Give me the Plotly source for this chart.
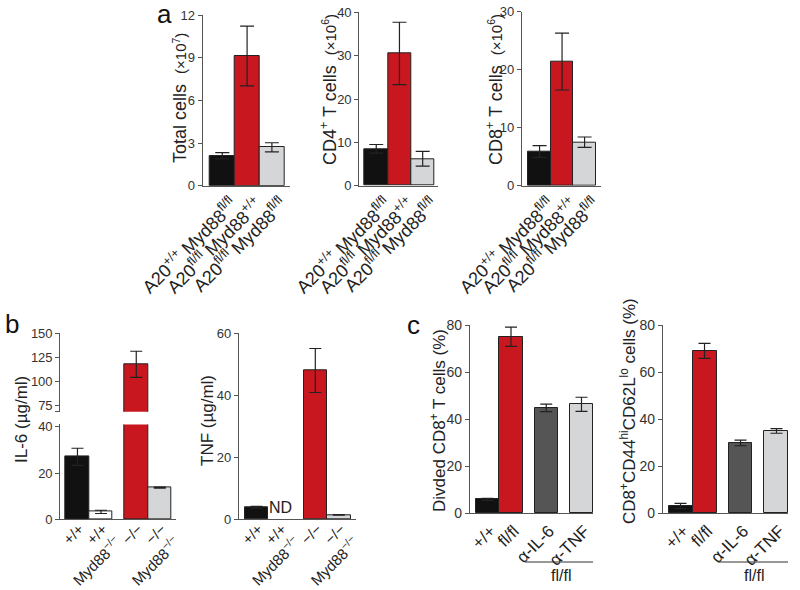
import plotly.graph_objects as go

# ---------------- data ----------------
a_categories = [
    "A20<sup>+/+</sup> Myd88<sup>fl/fl</sup>",
    "A20<sup>fl/fl</sup> Myd88<sup>+/+</sup>",
    "A20<sup>fl/fl</sup> Myd88<sup>fl/fl</sup>",
]
total_cells = [2.11, 9.12, 2.70]
total_cells_err = [0.22, 2.10, 0.32]
cd4_cells = [8.5, 30.5, 6.2]
cd4_err = [1.0, 7.2, 1.7]
cd8_cells = [5.9, 21.4, 7.5]
cd8_err = [1.0, 4.9, 0.9]

b_categories = [
    "+/+",
    "+/+<br>Myd88<sup>−/−</sup>",
    "−/−",
    "−/−<br>Myd88<sup>−/−</sup>",
]
il6 = [27.0, 3.2, 117.9, 13.7]
il6_err = [3.7, 0.7, 13.5, 0.25]
tnf = [3.9, None, 48.0, 1.4]
tnf_err = [0.3, 0.0, 7.1, 0.1]

c_categories = ["+/+", "fl/fl", "α-IL-6", "α-TNF"]
divided_cd8 = [5.9, 75.0, 44.8, 46.3]
divided_err = [0.4, 4.1, 1.6, 3.0]
effector_cd8 = [3.1, 69.0, 29.9, 35.0]
effector_err = [1.1, 3.2, 1.2, 1.0]

# ---------------- style ----------------
W, H = 800, 590
BLACK = "#111111"
RED = "#c8171f"
LGRAY = "#d5d6d8"
DGRAY = "#555555"
WHITE = "#ffffff"
FONT = "Arial, Liberation Sans, Helvetica, sans-serif"

a_colors = [BLACK, RED, LGRAY]
il6_colors = [BLACK, WHITE, RED, LGRAY]
tnf_colors = [BLACK, WHITE, RED, LGRAY]
c_colors = [BLACK, RED, DGRAY, LGRAY]

# slot positions along x (layout only)
a_slots = [0, 1, 2]
b_slots = [0, 1, 2.5, 3.5]
c_slots = [0, 1, 2.5, 4]


def fx(p):
    return p / W


def fy(p):
    return 1 - p / H


def bar(x, y, err, colors, xa, ya, cap=6):
    return go.Bar(
        x=x, y=y, width=1, xaxis=xa, yaxis=ya,
        marker=dict(color=colors, line=dict(color="#222222", width=1)),
        error_y=dict(type="data", array=err, visible=True, color="#222222",
                     thickness=1.2, width=cap),
        showlegend=False, hoverinfo="y",
    )


fig = go.Figure()
fig.add_trace(bar(a_slots, total_cells, total_cells_err, a_colors, "x", "y", 7))
fig.add_trace(bar(a_slots, cd4_cells, cd4_err, a_colors, "x2", "y2", 7))
fig.add_trace(bar(a_slots, cd8_cells, cd8_err, a_colors, "x3", "y3", 7))
fig.add_trace(bar(b_slots, il6, il6_err, il6_colors, "x4", "y4"))
fig.add_trace(bar(b_slots, il6, il6_err, il6_colors, "x4", "y5"))
fig.add_trace(bar(b_slots, tnf, tnf_err, tnf_colors, "x5", "y6"))
fig.add_trace(bar(c_slots, divided_cd8, divided_err, c_colors, "x6", "y7"))
fig.add_trace(bar(c_slots, effector_cd8, effector_err, c_colors, "x7", "y8"))

yax = dict(showline=True, linecolor="#555555", linewidth=1.2, ticks="outside",
           ticklen=4, tickwidth=1.2, tickcolor="#555555", showgrid=False,
           zeroline=False, automargin=False,
           tickfont=dict(size=13, color="#333333"))
xax = dict(showline=True, linecolor="#555555", linewidth=1.2, ticks="",
           showgrid=False, zeroline=False, tickangle=-45, automargin=False,
           tickfont=dict(size=17, color="#222222"))

layout = dict(
    width=W, height=H, margin=dict(l=0, r=0, t=0, b=0, pad=0), autosize=False,
    paper_bgcolor="white", plot_bgcolor="white",
    font=dict(family=FONT, color="#222222"),
    bargap=0,
)

a_tickfont = dict(size=18, color="#222222")
b_tickfont = dict(size=15, color="#222222")

# panel a
layout["xaxis"] = dict(xax, domain=[fx(202.7), fx(290)], range=[-0.79, 2.73],
                       anchor="y", tickvals=a_slots, ticktext=a_categories,
                       tickfont=a_tickfont, ticklabelshift=10)
layout["yaxis"] = dict(yax, domain=[fy(185.7), fy(15)], range=[0, 12],
                       anchor="x", tickvals=[0, 3, 6, 9, 12])
layout["xaxis2"] = dict(xax, domain=[fx(359.3), fx(438)], range=[-0.73, 2.66],
                        anchor="y2", tickvals=a_slots, ticktext=a_categories,
                        tickfont=a_tickfont, ticklabelshift=10)
layout["yaxis2"] = dict(yax, domain=[fy(185.7), fy(12.3)], range=[0, 40],
                        anchor="x2", tickvals=[0, 10, 20, 30, 40])
layout["xaxis3"] = dict(xax, domain=[fx(522), fx(601)], range=[-0.78, 2.73],
                        anchor="y3", tickvals=a_slots, ticktext=a_categories,
                        tickfont=a_tickfont, ticklabelshift=10)
layout["yaxis3"] = dict(yax, domain=[fy(185.7), fy(11.7)], range=[0, 30],
                        anchor="x3", tickvals=[0, 10, 20, 30])

# panel b (IL-6 broken axis)
layout["xaxis4"] = dict(xax, domain=[fx(60.3), fx(176)], range=[-0.73, 4.19],
                        anchor="y4", tickvals=b_slots, ticktext=b_categories,
                        tickfont=b_tickfont, ticklabelshift=2,
                        ticklabelstandoff=-6)
layout["yaxis4"] = dict(yax, domain=[fy(519.3), fy(424.4)], range=[0, 41],
                        anchor="x4", tickvals=[0, 20, 40])
layout["yaxis5"] = dict(yax, domain=[fy(411.7), fy(333.3)], range=[68.8, 150],
                        anchor="x4", tickvals=[68.8, 75, 100, 125, 150],
                        ticktext=["", "75", "100", "125", "150"])
layout["xaxis5"] = dict(xax, domain=[fx(239), fx(356)], range=[-0.745, 4.23],
                        anchor="y6", tickvals=b_slots, ticktext=b_categories,
                        tickfont=b_tickfont, ticklabelshift=2,
                        ticklabelstandoff=-6)
layout["yaxis6"] = dict(yax, domain=[fy(519.3), fy(333.3)], range=[0, 60],
                        anchor="x5", tickvals=[0, 20, 40, 60])

# panel c
layout["xaxis6"] = dict(xax, domain=[fx(470), fx(593)], range=[-0.745, 4.49],
                        anchor="y7", tickvals=c_slots, ticktext=c_categories,
                        ticklabelshift=3)
layout["yaxis7"] = dict(yax, domain=[fy(513.3), fy(325)], range=[0, 80],
                        anchor="x6", tickvals=[0, 20, 40, 60, 80],
                        tickfont=dict(size=14, color="#333333"))
layout["xaxis7"] = dict(xax, domain=[fx(663), fx(788)], range=[-0.73, 4.48],
                        anchor="y8", tickvals=c_slots, ticktext=c_categories,
                        ticklabelshift=3)
layout["yaxis8"] = dict(yax, domain=[fy(513.3), fy(325)], range=[0, 80],
                        anchor="x7", tickvals=[0, 20, 40, 60, 80],
                        tickfont=dict(size=14, color="#333333"))

fig.update_layout(**layout)


def vtitle(text, x, y, size):
    fig.add_annotation(text=text, xref="paper", yref="paper", x=fx(x), y=fy(y),
                       xanchor="center", yanchor="middle", textangle=-90,
                       showarrow=False, font=dict(size=size, color="#222222"))


small = "<span style='font-size:15px'>"
vtitle("Total cells  " + small + "(×10<sup>7</sup>)</span>", 180, 98, 18)
vtitle("CD4<sup>+</sup> T cells  " + small + "(×10<sup>6</sup>)</span>", 328, 90, 18)
vtitle("CD8<sup>+</sup> T cells  " + small + "(×10<sup>6</sup>)</span>", 494, 90, 18)
vtitle("IL-6 (µg/ml)", 21, 420, 17)
vtitle("TNF (µg/ml)", 207, 420, 17)
vtitle("Divded CD8<sup>+</sup> T cells (%)", 438, 421, 17)
vtitle("CD8<sup>+</sup>CD44<sup>hi</sup>CD62L<sup>lo</sup> cells (%)", 628, 411, 17)

for letter, x, y in [("a", 164, 14), ("b", 12, 324), ("c", 414, 325)]:
    fig.add_annotation(text=letter, xref="paper", yref="paper", x=fx(x), y=fy(y),
                       xanchor="center", yanchor="middle", showarrow=False,
                       font=dict(size=26, color="#111111"))

# ND label
fig.add_annotation(text="ND", xref="x5", yref="y6", x=b_slots[1], y=0,
                   xanchor="center", yanchor="bottom", yshift=1, showarrow=False,
                   font=dict(size=16, color="#222222"))

# fl/fl brackets in panel c
for xa, x0, x1 in [("x6", 1.6, 4.65), ("x7", 1.56, 4.56)]:
    fig.add_shape(type="line", xref=xa, yref="paper", x0=x0, x1=x1,
                  y0=fy(562), y1=fy(562), line=dict(color="#333333", width=1.2))
    fig.add_annotation(text="fl/fl", xref=xa, yref="paper", x=(x0 + x1) / 2,
                       y=fy(575), xanchor="center", yanchor="middle",
                       showarrow=False, font=dict(size=16, color="#222222"))

fig.write_html("out.html", config={"displayModeBar": False},
               post_script="document.body.style.margin='0px';"
                           "document.body.style.overflow='hidden';")
